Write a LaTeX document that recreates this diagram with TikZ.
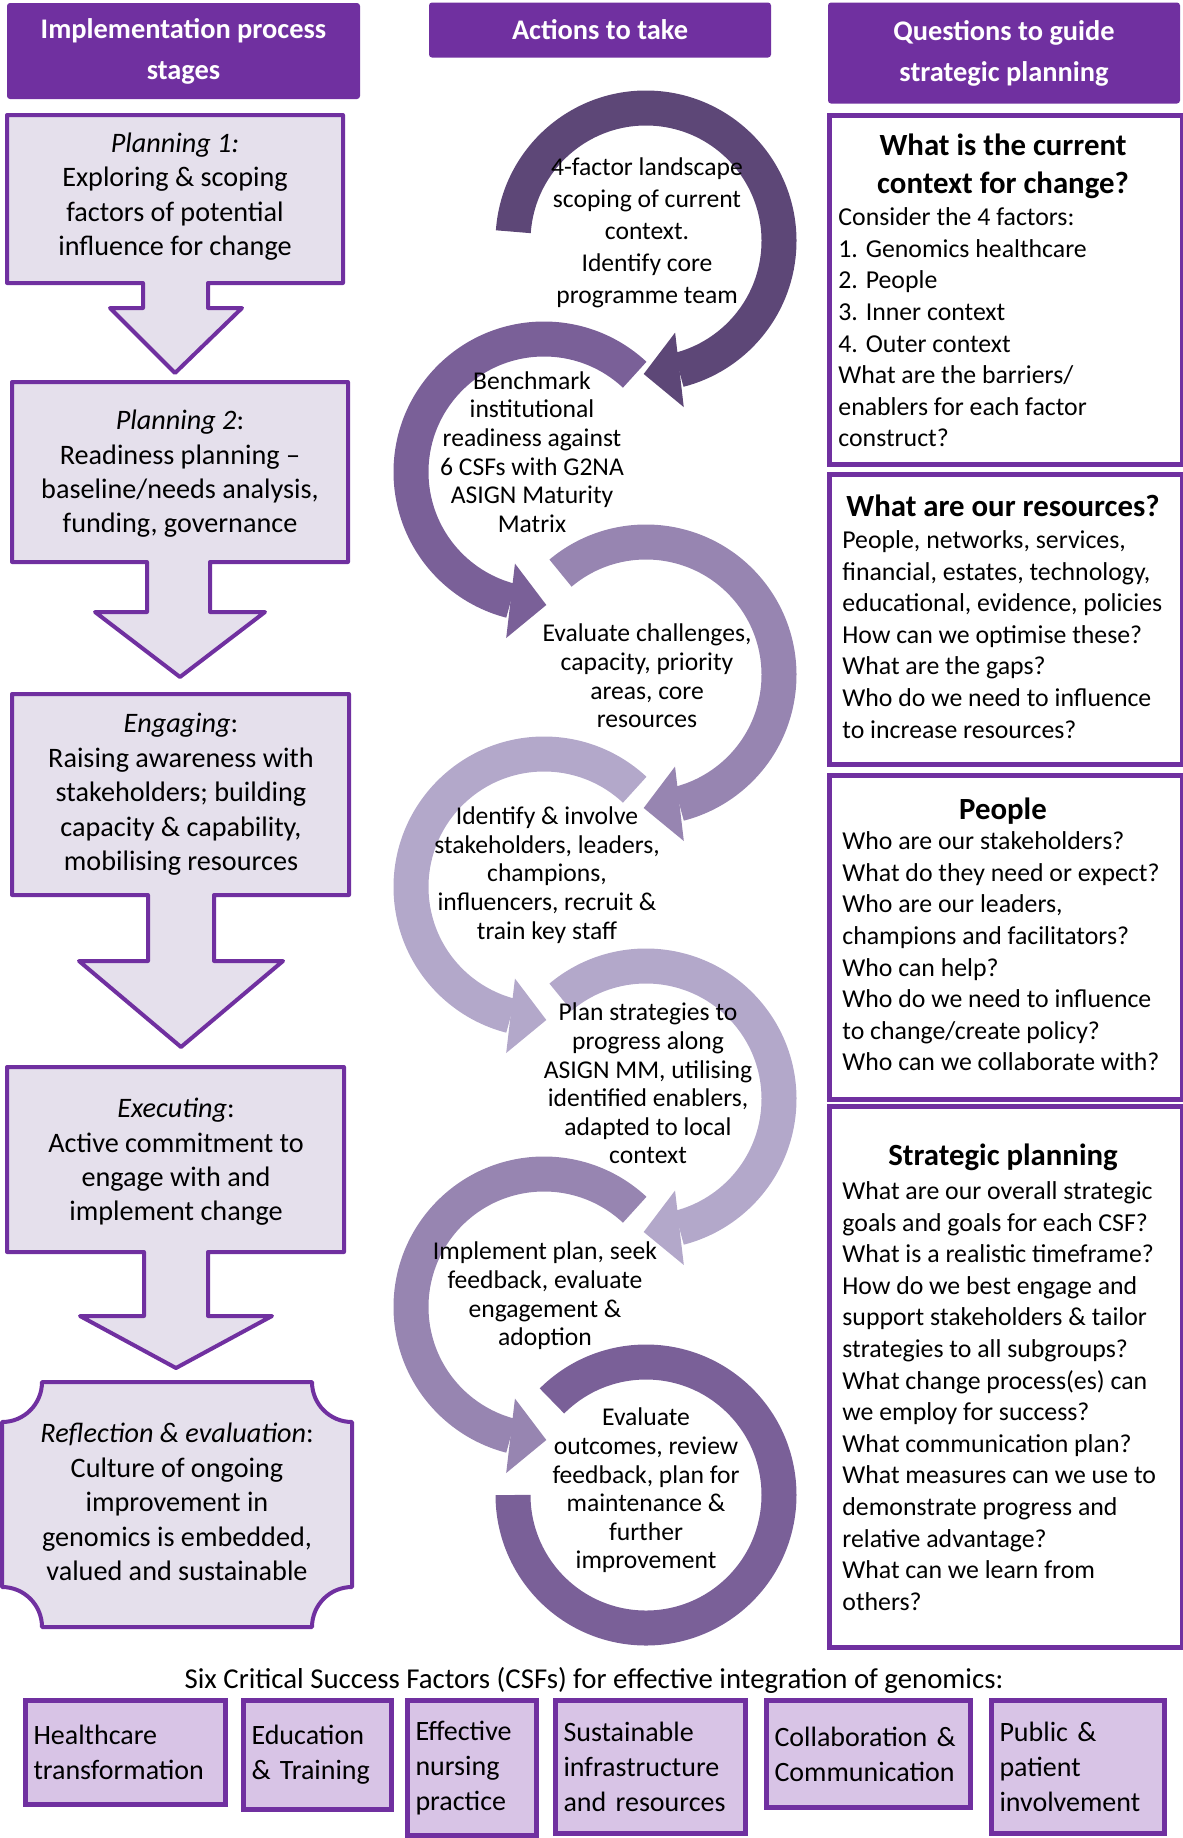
\documentclass[tikz,border=0pt]{standalone}
\usepackage{fontspec}
\setmainfont{Carlito}
\usetikzlibrary{arrows.meta,bending}

\definecolor{hdrpurple}{HTML}{7030A0}
\definecolor{stagefill}{HTML}{E5E0EC}
\definecolor{csffill}{HTML}{D8C4E6}
\definecolor{ringA}{HTML}{5D4777}
\definecolor{ringB}{HTML}{7A6098}
\definecolor{ringC}{HTML}{9785B1}
\definecolor{ringD}{HTML}{B3A8CA}

\tikzset{
	header/.style={fill=hdrpurple, rounded corners=1.5pt, text=white, inner sep=0pt,
		align=center, font=\fontsize{14.2}{20.5}\selectfont\bfseries},
	stage/.style={draw=hdrpurple, fill=stagefill, line width=2pt, line join=round},
	stagetext/.style={align=center, inner sep=0pt, font=\fontsize{14.1}{17.2}\selectfont},
	ring/.style={line width=17.5pt},
	ringarrow/.style={ring, -{Triangle[length=18pt,width=37.5pt,line width=0pt]}},
	ringtext/.style={align=center, inner sep=0pt, font=\fontsize{12.8}{14.3}\selectfont},
	question/.style={draw=hdrpurple, fill=white, line width=2.4pt, inner sep=0pt, anchor=north west},
	qtitle/.style={align=center, inner sep=0pt, font=\fontsize{15.4}{19}\selectfont\bfseries},
	qbody/.style={align=left, inner sep=0pt, anchor=west, font=\fontsize{12.9}{15.8}\selectfont},
	csf/.style={draw=hdrpurple, fill=csffill, line width=2.5pt, anchor=north west, align=left,
		inner xsep=4pt, font=\fontsize{14}{17.5}\selectfont},
}

\begin{document}
\begin{tikzpicture}[x=0.5pt, y=0.5pt]
\useasboundingbox (0,0) rectangle (1183,-1838);

	%column headers
\node[header, minimum width=176.5pt, minimum height=48pt] (stagehead) at (183.5,-51) {Implementation process\\stages};
\node[header, minimum width=171pt, minimum height=27.5pt] (actionhead) at (600,-30) {Actions to take};
\node[header, minimum width=176pt, minimum height=50.5pt] (questionhead) at (1004,-53) {Questions to guide\\strategic planning};


	%stage arrows
\draw[stage] (7,-115) -- (343,-115) -- (343,-283) -- (208,-283) -- (208,-308) -- (242,-308) -- (175,-373)
	-- (110,-308) -- (143,-308) -- (143,-283) -- (7,-283) -- cycle;
\node[stagetext] (plan1) at (175,-196.5) {\textit{Planning 1:}\\Exploring \& scoping\\factors of potential\\influence for change};

\draw[stage] (12,-382) -- (348,-382) -- (348,-562) -- (210,-562) -- (210,-612) -- (265,-612) -- (180,-677)
	-- (95,-612) -- (147,-612) -- (147,-562) -- (12,-562) -- cycle;
\node[stagetext] (plan2) at (180,-474) {\textit{Planning 2}:\\Readiness planning --\\baseline/needs analysis,\\funding, governance};

\draw[stage] (12,-694) -- (349,-694) -- (349,-895) -- (214,-895) -- (214,-961) -- (283,-961) -- (181,-1047)
	-- (79,-961) -- (148,-961) -- (148,-895) -- (12,-895) -- cycle;
\node[stagetext] (engage) at (181,-794.5) {\textit{Engaging}:\\Raising awareness with\\stakeholders; building\\capacity \& capability,\\mobilising resources};

\draw[stage] (7,-1067) -- (344,-1067) -- (344,-1252) -- (208,-1252) -- (208,-1316) -- (272,-1316) -- (176,-1368)
	-- (80,-1316) -- (144,-1316) -- (144,-1252) -- (7,-1252) -- cycle;
\node[stagetext] (execute) at (176,-1162) {\textit{Executing}:\\Active commitment to\\engage with and\\implement change};

	%reflection plaque
\draw[stage] (42,-1382) -- (312,-1382) arc[start angle=180, end angle=270, radius=40]
	-- (352,-1587) arc[start angle=90, end angle=180, radius=40]
	-- (42,-1627) arc[start angle=0, end angle=90, radius=40]
	-- (2,-1422) arc[start angle=270, end angle=360, radius=40] -- cycle;
\node[stagetext] (reflect) at (177,-1502) {\textit{Reflection \& evaluation}:\\Culture of ongoing\\improvement in\\genomics is embedded,\\valued and sustainable};


	%action rings
\draw[ringarrow, ringA] (646,-241) ++(176:133) arc[start angle=176, end angle=-91, radius=133];
\draw[ringarrow, ringB] (544,-472) ++(47:133) arc[start angle=47, end angle=271, radius=133];
\draw[ringarrow, ringC] (646,-675) ++(130:133) arc[start angle=130, end angle=-91, radius=133];
\draw[ringarrow, ringD] (544,-887) ++(47:133) arc[start angle=47, end angle=271, radius=133];
\draw[ringarrow, ringD] (646,-1099) ++(130:133) arc[start angle=130, end angle=-91, radius=133];
\draw[ringarrow, ringC] (544,-1307) ++(47:133) arc[start angle=47, end angle=271, radius=133];
\draw[ring, ringB] (646,-1495) ++(135:133) arc[start angle=135, end angle=-180, radius=133];

\node[ringtext, font=\fontsize{12.8}{16}\selectfont] (scope) at (647,-233) {4-factor landscape\\scoping of current\\context.\\Identify core\\programme team};
\node[ringtext] (benchmark) at (532,-452) {Benchmark\\institutional\\readiness against\\6 CSFs with G2NA\\ASIGN Maturity\\Matrix};
\node[ringtext] (challenges) at (647,-676) {Evaluate challenges,\\capacity, priority\\areas, core\\resources};
\node[ringtext] (involve) at (547,-875) {Identify \& involve\\stakeholders, leaders,\\champions,\\influencers, recruit \&\\train key staff};
\node[ringtext] (strategies) at (648,-1083.5) {Plan strategies to\\progress along\\ASIGN MM, utilising\\identified enablers,\\adapted to local\\context};
\node[ringtext] (implement) at (545,-1296) {Implement plan, seek\\feedback, evaluate\\engagement \&\\adoption};
\node[ringtext] (outcomes) at (646,-1490.5) {Evaluate\\outcomes, review\\feedback, plan for\\maintenance \&\\further\\improvement};


	%question boxes
\node[question, minimum width=176.5pt, minimum height=174.5pt] (contextbox) at (827,-113) {};
\node[qtitle] (contexttitle) at (1003,-166) {What is the current\\context for change?};
\node[qbody] (contextbody) at (838,-327.5) {Consider the 4 factors:\\1. Genomics healthcare\\2. People\\3. Inner context\\4. Outer context\\What are the barriers/\\enablers for each factor\\construct?};

\node[question, minimum width=176.5pt, minimum height=145pt] (resourcebox) at (827,-472) {};
\node[qtitle] (resourcetitle) at (1003,-506) {What are our resources?};
\node[qbody] (resourcebody) at (842,-634.5) {People, networks, services,\\financial, estates, technology,\\educational, evidence, policies\\How can we optimise these?\\What are the gaps?\\Who do we need to influence\\to increase resources?};

\node[question, minimum width=176.5pt, minimum height=162pt] (peoplebox) at (827,-773) {};
\node[qtitle] (peopletitle) at (1003,-811) {People};
\node[qbody] (peoplebody) at (842,-951.5) {Who are our stakeholders?\\What do they need or expect?\\Who are our leaders,\\champions and facilitators?\\Who can help?\\Who do we need to influence\\to change/create policy?\\Who can we collaborate with?};

\node[question, minimum width=176.5pt, minimum height=270.5pt] (strategybox) at (827,-1104) {};
\node[qtitle] (strategytitle) at (1003,-1157) {Strategic planning};
\node[qbody] (strategybody) at (842,-1396) {What are our overall strategic\\goals and goals for each CSF?\\What is a realistic timeframe?\\How do we best engage and\\support stakeholders \& tailor\\strategies to all subgroups?\\What change process(es) can\\we employ for success?\\What communication plan?\\What measures can we use to\\demonstrate progress and\\relative advantage?\\What can we learn from\\others?};


	%critical success factors
\node[font=\fontsize{14.4}{17.5}\selectfont, inner sep=0pt] (csfcaption) at (594,-1680) {Six Critical Success Factors (CSFs) for effective integration of genomics:};

\node[csf, text width=92pt, minimum height=52pt] (health) at (23,-1698) {Healthcare\\transformation};
\node[csf, text width=66pt, minimum height=54.5pt] (education) at (241,-1698) {Education\\\& Training};
\node[csf, text width=56.5pt, minimum height=67.5pt] (nursing) at (405,-1698) {Effective\\nursing\\practice};
\node[csf, text width=87pt, minimum height=66.5pt] (infra) at (553,-1698) {Sustainable\\infrastructure\\and resources};
\node[csf, text width=94pt, minimum height=53.5pt] (collab) at (764,-1698) {Collaboration \&\\Communication};
\node[csf, text width=78.5pt, minimum height=66.5pt] (public) at (989,-1698) {Public \&\\patient\\involvement};

\end{tikzpicture}
\end{document}
